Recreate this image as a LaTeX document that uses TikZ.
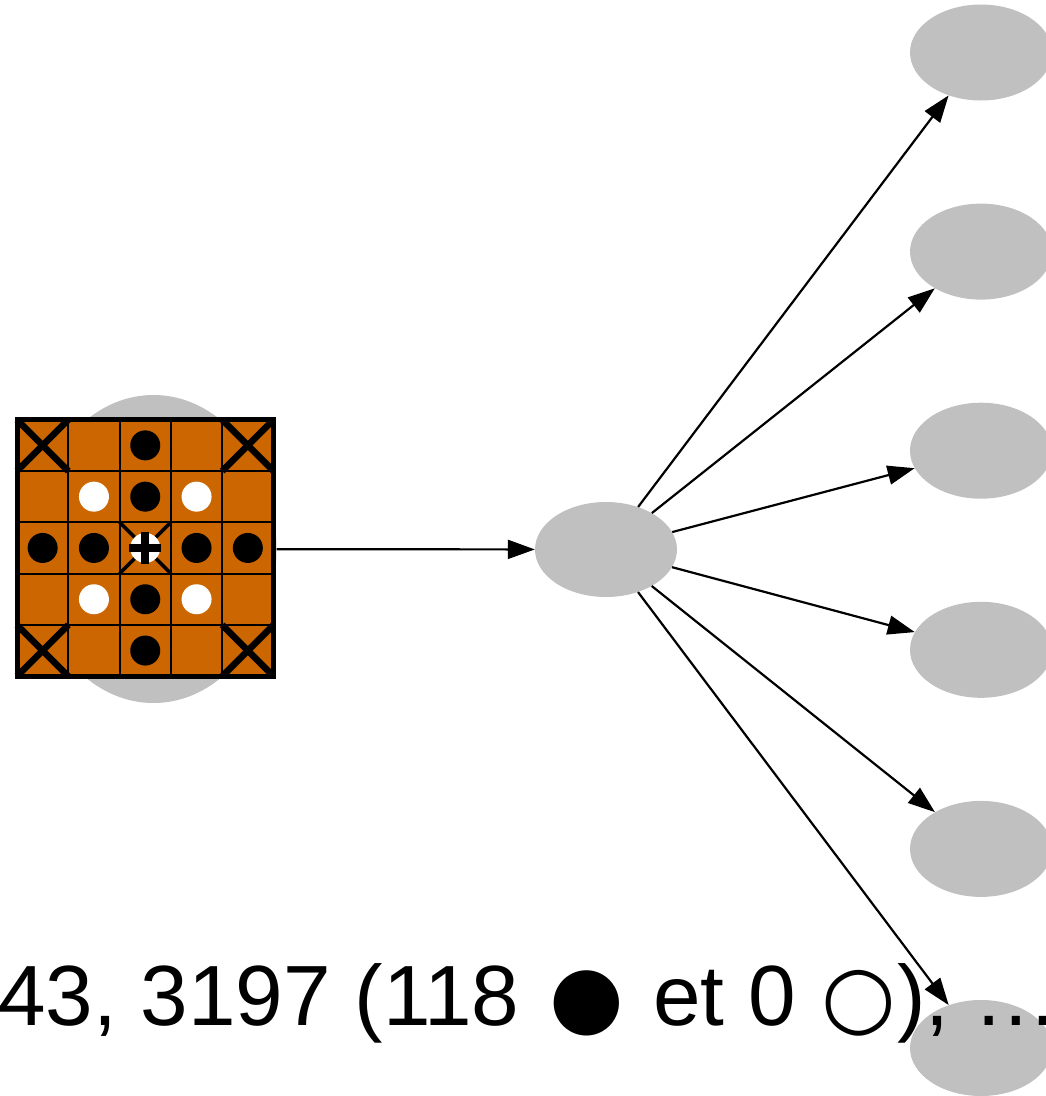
\documentclass[tikz,border=0pt]{standalone}
\usepackage{fontspec}
\setmainfont{Liberation Sans}
\newfontfamily\symfont{DejaVu Sans}
\usetikzlibrary{shapes.geometric,arrows.meta}
\definecolor{nodegray}{RGB}{192,192,192}
\definecolor{boardorange}{RGB}{204,102,0}
\begin{document}
\begin{tikzpicture}[x=1pt,y=-1pt,
  gnode/.style={ellipse, fill=nodegray, draw=none, inner sep=0pt, minimum width=142pt, minimum height=96pt},
  edge/.style={line width=2.2pt, -{Triangle[length=27pt,width=19pt]}},
  gridline/.style={line width=2pt},
  borderline/.style={line width=5pt},
  cornerx/.style={line width=6.5pt},
  centerx/.style={line width=3.5pt},
  blackpiece/.style={fill=black},
  whitepiece/.style={fill=white},
  lbl/.style={anchor=base west, inner sep=0pt, font=\fontsize{85.5}{100}\selectfont}]
\useasboundingbox (0,0) rectangle (1046,1096);
\clip (0,0) rectangle (1046,1096);
% nodes
\node[gnode, minimum width=246pt, minimum height=308pt] (L) at (153.5,549) {};
\node[gnode, minimum width=142pt, minimum height=95pt] (M) at (606,549.5) {};
\foreach \k/\yy in {1/52.5,2/251.6,3/450.7,4/649.8,5/848.9,6/1048}
  \node[gnode] (R\k) at (981,\yy) {};
% board
\def\bx{17}\def\by{419.7}\def\bc{51.3}
\fill[boardorange] (14.5,417.2) rectangle (276,678.7);
\foreach \i in {1,...,4} {
  \draw[gridline] ({\bx+\i*\bc},\by) -- ++(0,{5*\bc});
  \draw[gridline] (\bx,{\by+\i*\bc}) -- ++({5*\bc},0);
}
% corner crosses
\foreach \cx/\cy in {0/0,4/0,0/4,4/4} {
  \draw[cornerx] ({\bx+\cx*\bc},{\by+\cy*\bc}) -- ++(\bc,\bc);
  \draw[cornerx] ({\bx+(\cx+1)*\bc},{\by+\cy*\bc}) -- ++(-\bc,\bc);
}
% center cross
\draw[centerx] ({\bx+2*\bc},{\by+2*\bc}) -- ++(\bc,\bc);
\draw[centerx] ({\bx+3*\bc},{\by+2*\bc}) -- ++(-\bc,\bc);
\draw[borderline] (\bx,\by) rectangle ({\bx+5*\bc},{\by+5*\bc});
% pieces
\foreach \cx/\cy in {2/0,2/1,0/2,1/2,3/2,4/2,2/3,2/4}
  \fill[blackpiece] ({\bx+(\cx+0.5)*\bc},{\by+(\cy+0.5)*\bc}) circle (15);
\foreach \cx/\cy in {1/1,3/1,1/3,3/3,2/2}
  \fill[whitepiece] ({\bx+(\cx+0.5)*\bc},{\by+(\cy+0.5)*\bc}) circle (15);
% plus on center piece
\fill[black] ({\bx+2.5*\bc-16},{\by+2.5*\bc-4}) rectangle ++(32,8);
\fill[black] ({\bx+2.5*\bc-4},{\by+2.5*\bc-16}) rectangle ++(8,32);
% edges
\draw[edge] (L) -- (M);
\foreach \k in {1,...,6}
  \draw[edge] (M) -- (R\k);
% label
\node[lbl] (label) at (-2,1025) {43, 3197 (118 \makebox[86pt]{\symfont ●} et 0 \makebox[78pt]{\symfont ○}), …};
\end{tikzpicture}
\end{document}
